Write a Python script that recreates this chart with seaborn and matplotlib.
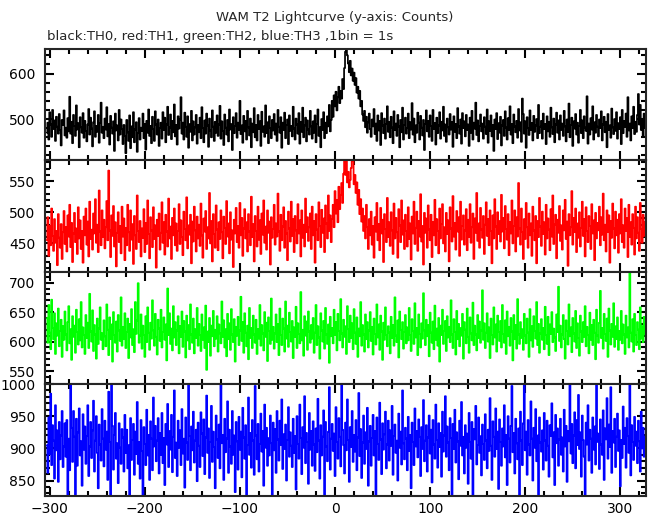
import numpy as np
import matplotlib
matplotlib.use("Agg")
import matplotlib.pyplot as plt
import seaborn as sns
from matplotlib.ticker import MultipleLocator

# light curves, 1 bin = 1 s, first bin at t = -303 s
t_start = -303

th0 = [
    470, 492, 455, 515, 488, 461, 520, 478, 497, 452, 505, 483, 468, 511, 476, 442, 498, 487, 519, 464,
    481, 459, 502, 473, 549, 468, 494, 447, 509, 485, 463, 530, 477, 491, 438, 504, 482, 470, 513, 459,
    496, 474, 451, 488, 522, 466, 503, 479, 440, 493, 517, 461, 485, 472, 509, 448, 491, 536, 470, 483,
    458, 501, 477, 526, 462, 489, 444, 507, 481, 468, 495, 430, 512, 475, 486, 453, 520, 466, 499, 478,
    445, 487, 463, 425, 498, 471, 452, 508, 436, 484, 460, 515, 449, 477, 493, 428, 469, 502, 455, 481,
    474, 512, 458, 489, 433, 496, 470, 521, 463, 485, 447, 505, 478, 452, 517, 488, 466, 499, 441, 480,
    492, 457, 515, 476, 503, 449, 488, 527, 465, 481, 510, 456, 496, 471, 532, 462, 487, 444, 506, 479,
    499, 548, 468, 492, 455, 514, 483, 461, 506, 437, 489, 472, 518, 453, 495, 466, 482, 509, 446, 487,
    471, 503, 458, 526, 480, 449, 497, 468, 512, 486, 439, 501, 475, 460, 519, 483, 452, 494, 470, 508,
    463, 488, 529, 457, 495, 474, 443, 510, 481, 466, 498, 451, 521, 477, 489, 432, 504, 469, 485, 513,
    459, 492, 476, 540, 467, 486, 448, 507, 473, 496, 455, 518, 482, 464, 501, 438, 490, 471, 524, 460,
    487, 453, 509, 478, 495, 441, 516, 472, 484, 461, 530, 469, 493, 447, 506, 480, 458, 498, 475, 511,
    466, 490, 452, 520, 483, 470, 504, 437, 492, 476, 514, 458, 487, 499, 445, 508, 474, 485, 462, 527,
    479, 455, 501, 488, 468, 513, 446, 494, 472, 525, 460, 486, 503, 451, 497, 477, 466, 518, 484, 457,
    495, 470, 508, 449, 489, 521, 463, 482, 438, 500, 476, 515, 458, 492, 469, 506, 484, 531, 473, 498,
    540, 505, 552, 528, 560, 519, 548, 571, 535, 562, 545, 588, 566, 612, 648, 665, 640, 622, 603, 628,
    596, 611, 584, 602, 575, 590, 558, 571, 545, 562, 528, 540, 510, 496, 518, 482, 505, 470, 493, 512,
    478, 461, 499, 484, 522, 467, 490, 452, 508, 475, 496, 443, 513, 486, 469, 501, 457, 489, 528, 472,
    494, 460, 505, 481, 447, 517, 476, 490, 463, 509, 484, 438, 498, 471, 525, 455, 487, 503, 468, 480,
    512, 458, 493, 477, 535, 466, 501, 449, 486, 470, 514, 492, 455, 507, 481, 464, 498, 432, 489, 519,
    473, 496, 461, 508, 485, 452, 520, 478, 491, 444, 503, 469, 486, 515, 457, 494, 475, 527, 463, 488,
    450, 501, 482, 466, 511, 477, 493, 439, 506, 472, 489, 458, 524, 484, 468, 499, 446, 513, 480, 495,
    462, 509, 476, 488, 441, 503, 470, 518, 455, 492, 479, 536, 465, 497, 451, 485, 510, 473, 490, 457,
    504, 483, 467, 521, 448, 495, 474, 508, 462, 487, 430, 499, 478, 513, 456, 491, 470, 505, 442, 486,
    498, 463, 517, 481, 455, 502, 476, 528, 466, 489, 447, 510, 484, 471, 496, 459, 522, 475, 493, 450,
    545, 511, 468, 495, 437, 504, 480, 465, 519, 476, 491, 453, 507, 472, 486, 500, 458, 531, 469, 483,
    496, 457, 512, 478, 489, 445, 506, 473, 494, 461, 525, 482, 467, 501, 449, 488, 514, 470, 497, 455,
    508, 476, 490, 463, 518, 484, 451, 499, 472, 534, 460, 487, 503, 441, 495, 479, 511, 466, 492, 448,
    485, 520, 469, 497, 458, 506, 481, 474, 550, 446, 490, 466, 502, 477, 528, 455, 493, 470, 509, 483,
    462, 499, 480, 517, 453, 488, 505, 471, 494, 438, 511, 476, 486, 459, 523, 482, 467, 500, 474, 515,
    457, 491, 478, 504, 445, 520, 469, 496, 483, 512, 461, 548, 475, 490, 453, 506, 480, 527, 467, 494,
    472, 509, 555, 488, 531, 476, 499, 463, 512, 485,
]

th1 = [
    455, 492, 430, 478, 447, 506, 462, 438, 489, 451, 470, 415, 497, 459, 443, 481, 425, 468, 502, 449,
    476, 437, 495, 461, 512, 444, 483, 420, 466, 499, 452, 474, 433, 508, 458, 487, 441, 470, 419, 493,
    463, 506, 448, 485, 429, 517, 457, 472, 440, 498, 466, 521, 451, 480, 436, 535, 469, 447, 503, 460,
    488, 442, 476, 518, 455, 567, 471, 428, 495, 462, 510, 445, 484, 413, 467, 500, 452, 478, 434, 509,
    461, 490, 423, 475, 447, 512, 468, 438, 503, 456, 481, 417, 494, 463, 441, 527, 470, 452, 486, 429,
    474, 459, 505, 436, 483, 449, 519, 465, 426, 492, 471, 444, 508, 457, 479, 411, 488, 462, 498, 440,
    467, 516, 451, 484, 432, 496, 469, 445, 522, 458, 477, 425, 491, 463, 506, 447, 482, 438, 470, 513,
    449, 487, 460, 431, 501, 473, 455, 524, 442, 479, 464, 496, 418, 485, 453, 509, 471, 437, 493, 458,
    480, 446, 514, 463, 427, 490, 469, 502, 441, 476, 458, 531, 450, 486, 421, 497, 465, 443, 511, 472,
    439, 484, 457, 503, 468, 426, 493, 475, 449, 518, 461, 482, 434, 500, 456, 471, 412, 488, 466, 507,
    452, 478, 443, 515, 463, 491, 430, 474, 505, 458, 484, 437, 497, 469, 447, 525, 460, 481, 421, 494,
    470, 445, 509, 456, 487, 433, 498, 464, 519, 451, 477, 440, 503, 467, 485, 416, 492, 459, 473, 512,
    448, 482, 461, 530, 469, 438, 496, 455, 477, 508, 443, 486, 466, 423, 501, 474, 453, 517, 462, 489,
    436, 494, 471, 450, 513, 466, 487, 429, 503, 459, 480, 445, 522, 468, 492, 454, 476, 498, 441, 509,
    463, 486, 419, 497, 472, 455, 516, 478, 444, 504, 467, 490, 436, 511, 482, 458, 527, 470, 495, 452,
    489, 512, 476, 534, 498, 520, 484, 541, 505, 528, 547, 515, 562, 588, 560, 586, 548, 565, 540, 552,
    571, 592, 583, 545, 560, 531, 548, 512, 536, 497, 521, 485, 506, 470, 494, 458, 512, 476, 441, 489,
    463, 501, 448, 478, 427, 492, 469, 515, 455, 481, 439, 507, 466, 488, 420, 497, 473, 452, 523, 460,
    484, 446, 500, 471, 433, 514, 458, 491, 468, 427, 505, 479, 452, 519, 464, 487, 441, 496, 470, 445,
    508, 457, 482, 424, 493, 466, 517, 449, 475, 501, 438, 486, 461, 529, 453, 478, 416, 499, 467, 490,
    443, 511, 472, 455, 496, 428, 484, 463, 520, 447, 489, 470, 434, 506, 458, 481, 513, 450, 476, 437,
    499, 465, 487, 421, 508, 474, 453, 526, 461, 483, 440, 502, 469, 492, 430, 517, 456, 478, 495, 448,
    471, 505, 439, 488, 460, 513, 451, 476, 498, 425, 490, 467, 531, 454, 482, 443, 507, 472, 459, 494,
    433, 480, 516, 462, 489, 447, 503, 470, 418, 495, 458, 521, 477, 441, 500, 465, 486, 453, 528, 469,
    491, 442, 510, 473, 456, 497, 431, 484, 466, 519, 450, 478, 503, 437, 492, 461, 547, 474, 448, 506,
    468, 425, 489, 457, 515, 476, 443, 498, 463, 482, 430, 509, 471, 455, 494, 418, 486, 460, 523, 477,
    446, 501, 465, 484, 432, 512, 458, 490, 472, 439, 505, 461, 527, 449, 480, 496, 426, 488, 467, 510,
    454, 479, 440, 503, 471, 520, 457, 485, 414, 497, 463, 476, 534, 448, 491, 468, 506, 436, 482, 459,
    500, 445, 475, 517, 462, 489, 429, 508, 470, 452, 494, 478, 441, 513, 466, 487, 423, 499, 458, 483,
    471, 509, 447, 492, 464, 530, 455, 480, 437, 503, 468, 495, 419, 486, 459, 514, 474, 442, 501, 463,
    488, 435, 497, 466, 521, 452, 479, 443, 506, 470, 491, 428, 512, 460, 484, 448, 497, 475, 432, 509,
    458, 492, 467, 438, 515, 473, 451, 496, 462, 484,
]

th2 = [
    640, 598, 662, 615, 587, 671, 623, 604, 648, 579, 631, 610, 656, 592, 618, 637, 574, 626, 603, 651,
    612, 585, 633, 660, 597, 621, 569, 643, 608, 627, 581, 654, 616, 595, 638, 602, 667, 590, 624, 611,
    579, 645, 606, 632, 589, 681, 617, 600, 653, 584, 628, 612, 571, 639, 596, 622, 658, 603, 614, 587,
    636, 609, 592, 663, 620, 577, 641, 604, 629, 566, 650, 611, 598, 634, 583, 645, 619, 601, 675, 593,
    625, 604, 648, 589, 616, 639, 572, 630, 607, 655, 594, 621, 582, 667, 613, 636, 699, 598, 610, 646,
    588, 627, 611, 574, 643, 599, 658, 615, 586, 632, 605, 670, 619, 593, 647, 608, 578, 637, 622, 601,
    654, 590, 616, 641, 603, 629, 568, 690, 611, 648, 596, 622, 585, 660, 607, 633, 594, 619, 643, 580,
    626, 608, 651, 591, 635, 617, 573, 644, 602, 628, 587, 663, 612, 598, 639, 580, 621, 606, 657, 593,
    630, 611, 584, 646, 603, 624, 589, 661, 552, 617, 599, 640, 576, 627, 609, 652, 592, 620, 605, 643,
    583, 629, 614, 597, 668, 608, 636, 590, 621, 575, 647, 604, 631, 586, 655, 612, 599, 638, 566, 625,
    610, 642, 594, 619, 676, 601, 633, 581, 648, 615, 592, 627, 570, 657, 606, 623, 589, 644, 612, 598,
    637, 579, 621, 605, 662, 593, 628, 614, 585, 650, 608, 632, 567, 641, 618, 596, 673, 603, 625, 588,
    614, 646, 599, 630, 577, 656, 611, 594, 639, 622, 583, 668, 605, 627, 591, 649, 616, 600, 635, 572,
    624, 608, 659, 589, 631, 613, 597, 684, 602, 620, 576, 643, 610, 634, 586, 651, 617, 598, 628, 605,
    640, 581, 615, 662, 594, 626, 607, 571, 648, 619, 600, 635, 588, 657, 612, 596, 629, 564, 642, 609,
    623, 597, 654, 611, 633, 585, 647, 618, 602, 672, 614, 590, 637, 608, 626, 579, 660, 621, 599, 644,
    606, 631, 587, 655, 615, 596, 641, 574, 622, 609, 667, 593, 628, 612, 583, 646, 604, 633, 590, 619,
    650, 601, 625, 578, 639, 613, 595, 663, 607, 629, 586, 644, 617, 569, 632, 603, 658, 611, 592, 626,
    615, 580, 642, 606, 628, 593, 675, 610, 599, 636, 573, 651, 620, 604, 633, 588, 616, 645, 597, 624,
    602, 657, 611, 584, 638, 618, 596, 665, 607, 623, 577, 646, 613, 590, 631, 605, 682, 619, 594, 637,
    609, 628, 575, 649, 615, 598, 634, 587, 661, 603, 622, 593, 640, 566, 627, 611, 654, 596, 618, 635,
    584, 643, 607, 625, 599, 670, 612, 589, 638, 616, 578, 652, 604, 630, 592, 623, 610, 647, 571, 633,
    620, 597, 656, 608, 581, 641, 614, 602, 666, 594, 627, 612, 585, 645, 606, 634, 598, 619, 687, 603,
    631, 589, 615, 648, 600, 624, 572, 639, 611, 595, 658, 607, 629, 583, 644, 616, 601, 635, 590, 662,
    613, 598, 636, 579, 651, 609, 625, 593, 640, 617, 568, 645, 604, 628, 588, 672, 612, 596, 633, 606,
    621, 586, 647, 610, 597, 639, 615, 574, 655, 602, 626, 591, 643, 618, 605, 667, 594, 630, 581, 614,
    638, 603, 623, 587, 659, 611, 596, 642, 577, 629, 613, 650, 599, 622, 607, 584, 646, 616, 693, 601,
    627, 590, 612, 645, 604, 571, 636, 618, 595, 663, 609, 624, 582, 640, 614, 600, 652, 589, 631, 606,
    576, 644, 617, 599, 633, 608, 660, 592, 625, 611, 580, 649, 603, 628, 594, 637, 615, 570, 654, 610,
    598, 632, 686, 606, 623, 588, 647, 613, 601, 639, 574, 656, 619, 595, 630, 608, 665, 591, 626, 604,
    641, 586, 618, 603, 652, 597, 629, 612, 579, 644, 607, 624, 590, 716, 615, 600, 638, 583, 647, 611,
    594, 633, 620, 587, 658, 605, 626, 599, 642, 613,
]

th3 = [
    905, 862, 948, 891, 985, 874, 936, 912, 853, 967, 897, 928, 848, 941, 883, 920, 958, 871, 903, 939,
    887, 944, 822, 915, 866, 1004, 932, 879, 958, 918, 828, 946, 873, 925, 962, 889, 911, 842, 953, 898,
    934, 876, 919, 967, 857, 903, 941, 885, 928, 974, 864, 912, 950, 893, 838, 937, 906, 881, 961, 915,
    872, 943, 898, 926, 851, 988, 910, 823, 1003, 935, 867, 921, 955, 884, 908, 846, 939, 901, 876, 930,
    917, 864, 952, 893, 929, 869, 905, 820, 947, 882, 913, 938, 859, 926, 891, 972, 876, 910, 853, 944,
    896, 818, 933, 907, 874, 960, 889, 921, 851, 942, 915, 866, 979, 903, 935, 880, 912, 947, 861, 924,
    890, 955, 877, 916, 843, 938, 906, 969, 871, 927, 898, 952, 863, 918, 990, 885, 909, 857, 943, 901,
    928, 874, 961, 892, 915, 839, 948, 909, 882, 1002, 919, 866, 934, 897, 957, 878, 912, 929, 849, 940,
    904, 871, 956, 923, 888, 945, 860, 917, 982, 893, 931, 854, 910, 966, 879, 926, 902, 838, 951, 914,
    885, 937, 869, 1001, 908, 921, 851, 946, 894, 915, 973, 862, 929, 903, 876, 958, 890, 920, 832, 941,
    911, 867, 949, 898, 926, 855, 963, 917, 884, 936, 821, 905, 979, 890, 924, 870, 944, 912, 859, 997,
    920, 883, 938, 864, 907, 954, 895, 927, 842, 968, 901, 932, 873, 916, 889, 951, 908, 826, 940, 897,
    930, 862, 958, 914, 881, 943, 905, 976, 868, 922, 899, 937, 850, 913, 964, 887, 925, 904, 871, 946,
    893, 919, 836, 950, 907, 884, 968, 916, 860, 933, 901, 981, 877, 924, 910, 845, 955, 898, 927, 873,
    942, 906, 865, 931, 894, 977, 912, 853, 936, 889, 918, 959, 824, 941, 903, 880, 926, 995, 867, 915,
    938, 896, 923, 857, 964, 910, 884, 947, 918, 872, 1002, 929, 905, 861, 940, 897, 976, 913, 848, 933,
    902, 958, 879, 921, 895, 944, 866, 917, 986, 888, 930, 854, 909, 951, 876, 925, 899, 963, 842, 911,
    935, 873, 916, 952, 889, 927, 828, 948, 907, 882, 971, 914, 860, 939, 898, 922, 957, 869, 906, 943,
    881, 928, 904, 966, 859, 919, 937, 893, 912, 850, 954, 901, 926, 875, 990, 908, 883, 932, 915, 866,
    949, 896, 921, 838, 940, 910, 874, 962, 903, 927, 886, 945, 918, 857, 933, 899, 975, 880, 912, 936,
    864, 917, 951, 892, 929, 847, 944, 906, 884, 968, 913, 870, 939, 902, 924, 856, 957, 895, 920, 981,
    887, 934, 909, 866, 947, 916, 828, 938, 899, 960, 878, 925, 911, 852, 943, 904, 972, 889, 918, 861,
    936, 901, 923, 845, 955, 910, 884, 941, 822, 930, 914, 966, 875, 905, 948, 893, 919, 858, 937, 907,
    882, 953, 912, 869, 929, 896, 978, 904, 851, 942, 918, 887, 962, 899, 926, 837, 945, 910, 873, 931,
    903, 967, 886, 921, 843, 950, 915, 878, 935, 997, 894, 924, 861, 946, 908, 883, 931, 826, 957, 912,
    874, 939, 1001, 897, 926, 859, 944, 906, 889, 973, 915, 850, 932, 901, 961, 880, 920, 828, 948, 909,
    895, 928, 867, 955, 912, 881, 943, 904, 856, 936, 919, 970, 886, 925, 843, 952, 908, 931, 873, 914,
    946, 890, 917, 864, 960, 903, 935, 848, 927, 911, 1003, 892, 938, 877, 920, 956, 869, 944, 905, 983,
    899, 925, 856, 951, 913, 887, 826, 940, 906, 967, 881, 929, 915, 862, 948, 898, 934, 875, 1001, 910,
    923, 868, 945, 906, 890, 959, 851, 931, 914, 978, 884, 937, 902, 995, 862, 927, 909, 946, 871, 918,
    954, 896, 928, 841, 913, 885, 965, 907, 932, 870, 947, 919, 893, 1002, 858, 936, 910, 882, 949, 904,
    926, 877, 943, 911, 864, 957, 900, 932, 887, 918,
]

series = [th0, th1, th2, th3]
colors = ["#000000", "#ff0000", "#00ff00", "#0000ff"]
ylims = [(410, 654), (404, 584), (528, 718), (826, 1000)]
major_y = [100, 50, 50, 50]
minor_y = [20, 10, 10, 10]

sns.set_style("ticks")
plt.rcParams["font.family"] = ["DejaVu Sans"]

fig = plt.figure(figsize=(6.52, 5.15), dpi=100)
H = 515.0
W = 652.0
edges = [49, 160, 272, 384, 496]  # panel borders in px from top
left, right = 45, 646

for i, vals in enumerate(series):
    top, bot = edges[i], edges[i + 1]
    ax = fig.add_axes([left / W, 1 - bot / H, (right - left) / W, (bot - top) / H])
    t = t_start + np.arange(len(vals))
    sns.lineplot(x=t, y=vals, ax=ax, color=colors[i], linewidth=1.25,
                 drawstyle="steps-mid", estimator=None)
    ax.set_xlim(-305, 327)
    ax.set_ylim(*ylims[i])
    ax.xaxis.set_major_locator(MultipleLocator(100))
    ax.xaxis.set_minor_locator(MultipleLocator(20))
    ax.yaxis.set_major_locator(MultipleLocator(major_y[i]))
    ax.yaxis.set_minor_locator(MultipleLocator(minor_y[i]))
    ax.tick_params(which="both", direction="in", top=True, right=True,
                   labelsize=10, width=1.5, colors="black")
    ax.tick_params(which="major", length=6.5)
    ax.tick_params(which="minor", length=3.5)
    ax.tick_params(axis="y", pad=7)
    ax.tick_params(axis="x", pad=4)
    ax.set_xlabel("")
    ax.set_ylabel("")
    for sp in ax.spines.values():
        sp.set_linewidth(1.5)
    if i < 3:
        ax.tick_params(labelbottom=False)

fig.text(335 / W, 1 - 17 / H, "WAM T2 Lightcurve (y-axis: Counts)",
         ha="center", va="center", fontsize=9.5)
fig.text(47 / W, 1 - 36 / H, "black:TH0, red:TH1, green:TH2, blue:TH3 ,1bin = 1s",
         ha="left", va="center", fontsize=9.5)

fig.savefig("out.png", dpi=100, facecolor="white")
